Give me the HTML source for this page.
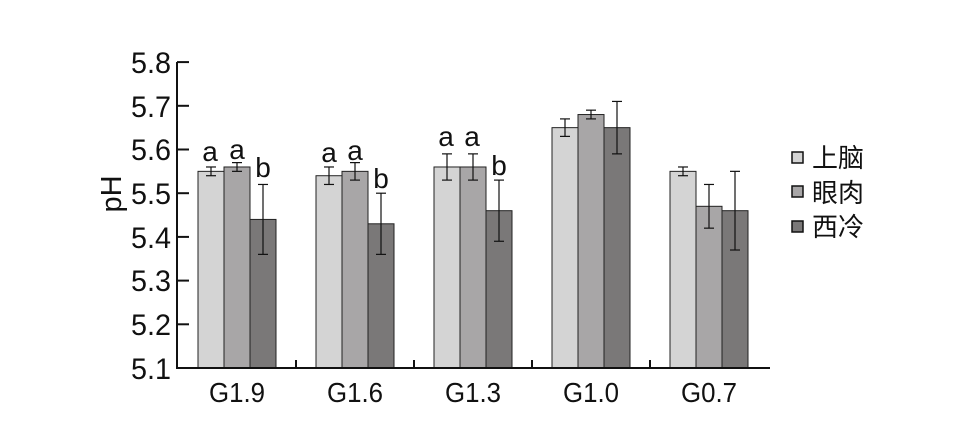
<!DOCTYPE html>
<html><head><meta charset="utf-8"><style>
html,body{margin:0;padding:0;background:#fff;}
svg{display:block;font-family:"Liberation Sans","Noto Sans CJK SC",sans-serif;}
</style></head><body>
<svg id="s" width="972" height="441" viewBox="0 0 972 441" xmlns="http://www.w3.org/2000/svg">
<g font-size="30" fill="#111" text-anchor="end" lengthAdjust="spacingAndGlyphs">
<text x="171" y="73" textLength="40" lengthAdjust="spacingAndGlyphs">5.8</text>
<text x="171" y="117" textLength="40" lengthAdjust="spacingAndGlyphs">5.7</text>
<text x="171" y="160" textLength="40" lengthAdjust="spacingAndGlyphs">5.6</text>
<text x="171" y="204" textLength="40" lengthAdjust="spacingAndGlyphs">5.5</text>
<text x="171" y="248" textLength="40" lengthAdjust="spacingAndGlyphs">5.4</text>
<text x="171" y="291" textLength="40" lengthAdjust="spacingAndGlyphs">5.3</text>
<text x="171" y="335" textLength="40" lengthAdjust="spacingAndGlyphs">5.2</text>
<text x="171" y="379" textLength="40" lengthAdjust="spacingAndGlyphs">5.1</text>
</g>
<text transform="translate(121,194) rotate(-90)" font-size="29" text-anchor="middle" fill="#111">pH</text>
<g font-size="28" fill="#111" text-anchor="middle">
<text x="237" y="402" textLength="56" lengthAdjust="spacingAndGlyphs">G1.9</text>
<text x="355" y="402" textLength="56" lengthAdjust="spacingAndGlyphs">G1.6</text>
<text x="473" y="402" textLength="56" lengthAdjust="spacingAndGlyphs">G1.3</text>
<text x="591" y="402" textLength="56" lengthAdjust="spacingAndGlyphs">G1.0</text>
<text x="709" y="402" textLength="56" lengthAdjust="spacingAndGlyphs">G0.7</text>
</g>
<g id="bars"></g>
<g font-size="28" fill="#111" text-anchor="middle">
<text x="210" y="161">a</text><text x="237" y="159">a</text><text x="263" y="177">b</text>
<text x="329" y="162">a</text><text x="355" y="160">a</text><text x="381" y="188">b</text>
<text x="446" y="146">a</text><text x="472" y="146">a</text><text x="499" y="175">b</text>
</g>
<g stroke="#111" stroke-width="1.5">
<rect x="792" y="152" width="11" height="11" fill="#d4d4d4"/>
<rect x="792" y="186" width="11" height="11" fill="#a8a6a7"/>
<rect x="792" y="221" width="11" height="11" fill="#7a7878"/>
</g>
<g font-size="26" fill="#111">
<text x="812" y="167">上脑</text>
<text x="812" y="202">眼肉</text>
<text x="812" y="236">西冷</text>
</g>
</svg>
<script>
var g=document.getElementById('bars'),ns='http://www.w3.org/2000/svg';
function Y(v){return 368-(v-5.1)*437;}
function el(t,a){var e=document.createElementNS(ns,t);for(var k in a)e.setAttribute(k,a[k]);g.appendChild(e);}
var d=[[[5.55,.01],[5.56,.01],[5.44,.08]],[[5.54,.02],[5.55,.02],[5.43,.07]],[[5.56,.03],[5.56,.03],[5.46,.07]],[[5.65,.02],[5.68,.01],[5.65,.06]],[[5.55,.01],[5.47,.05],[5.46,.09]]];
var c=['#d4d4d4','#a8a6a7','#7a7878'];
for(var i=0;i<5;i++)for(var j=0;j<3;j++){var x=198+i*118+j*26,v=d[i][j][0],e=d[i][j][1];
el('rect',{x:x,y:Y(v),width:26,height:368-Y(v),fill:c[j],stroke:'#222','stroke-width':1});
var cx=x+13;el('line',{x1:cx,x2:cx,y1:Y(v+e),y2:Y(v-e),stroke:'#111','stroke-width':1.2});
el('line',{x1:cx-5,x2:cx+5,y1:Y(v+e),y2:Y(v+e),stroke:'#111','stroke-width':1.2});
el('line',{x1:cx-5,x2:cx+5,y1:Y(v-e),y2:Y(v-e),stroke:'#111','stroke-width':1.2});}
el('line',{x1:177,x2:177,y1:62,y2:369,stroke:'#111','stroke-width':2});
el('line',{x1:176,x2:770,y1:368,y2:368,stroke:'#111','stroke-width':2});
for(var k=0;k<8;k++){var yy=Y(5.1+k*0.1);el('line',{x1:177,x2:189,y1:yy,y2:yy,stroke:'#111','stroke-width':2});}
for(var k=1;k<5;k++){var xx=178+k*118;el('line',{x1:xx,x2:xx,y1:360,y2:368,stroke:'#111','stroke-width':2});}
</script>
</body></html>
